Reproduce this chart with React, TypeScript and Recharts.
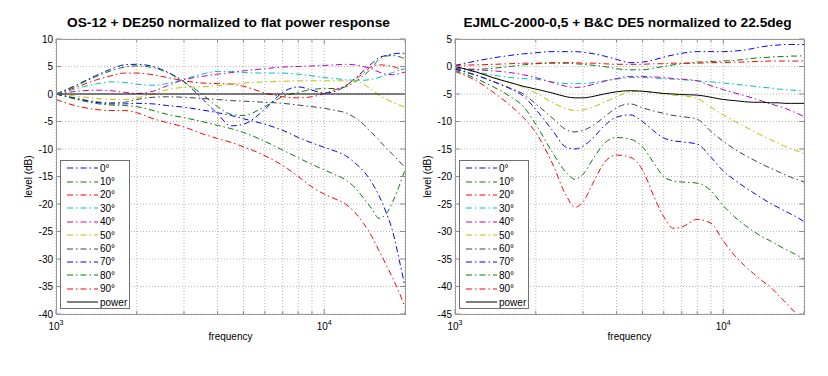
import React from 'react';
import { LineChart, Line, XAxis, YAxis, CartesianGrid, Legend } from 'recharts';

// ---------- data ----------
const seriesLabels = ['0°', '10°', '20°', '30°', '40°', '50°', '60°', '70°', '80°', '90°', 'power'];
const xTickValues = [1000, 2000, 3000, 4000, 5000, 6000, 7000, 8000, 9000, 10000, 20000];

const os12Title = 'OS-12 + DE250 normalized to flat power response';
const os12YTicks = [-40, -35, -30, -25, -20, -15, -10, -5, 0, 5, 10];
const os12Freq = [1000, 1200, 1400, 1600, 1800, 2000, 2300, 2600, 3000, 3500, 4000, 4500, 5000, 6000, 7000, 8000, 9000, 10000, 11000, 12000, 13000, 14000, 15000, 16000, 17000, 18000, 19000, 20000];
const os12Deg0 = [0, 1.7, 3.3, 4.5, 5.3, 5.4, 5.0, 4.0, 2.2, -0.8, -3.6, -5.8, -5.5, -2.8, 0.3, 1.3, 0.7, 0.2, 0.5, 1.5, 2.8, 4.2, 5.5, 6.6, 7.0, 7.3, 7.4, 7.4];
const os12Deg10 = [0, 1.6, 3.1, 4.2, 4.9, 5.1, 4.8, 3.9, 2.2, 0, -2.3, -3.7, -3.9, -2.3, -0.5, 0.3, 0.8, 1.0, 1.0, 1.3, 2.2, 3.3, 4.7, 6.3, 6.9, 7.0, 6.8, 6.4];
const os12Deg20 = [0, 1.3, 2.5, 3.3, 3.8, 3.8, 3.5, 3.0, 2.4, 2.0, 1.9, 1.8, 1.4, 0.2, -0.5, -0.7, -0.5, 0.1, 0.8, 1.5, 2.6, 3.8, 5.0, 5.3, 5.2, 5.0, 4.6, 4.2];
const os12Deg30 = [0, 1.0, 1.8, 2.2, 2.1, 1.8, 1.6, 1.9, 2.7, 3.6, 4.1, 4.1, 3.9, 3.8, 3.8, 3.6, 3.3, 3.0, 2.8, 2.6, 2.5, 2.5, 2.7, 3.0, 3.5, 3.9, 4.3, 4.6];
const os12Deg40 = [0, 0.5, 0.7, 0.6, 0.3, 0.1, 0.5, 1.5, 2.6, 3.2, 3.6, 3.9, 4.2, 4.6, 4.9, 5.0, 5.1, 5.2, 5.3, 5.4, 5.3, 5.0, 4.6, 4.0, 3.6, 3.5, 3.7, 4.0];
const os12Deg50 = [0, -0.4, -0.8, -1.0, -1.0, -0.7, 0, 0.8, 1.2, 1.3, 1.5, 1.8, 2.0, 2.2, 2.3, 2.4, 2.4, 2.4, 2.4, 2.4, 2.4, 1.8, 0.8, -0.2, -0.9, -1.5, -2.0, -2.4];
const os12Deg60 = [0, -0.8, -1.4, -1.6, -1.5, -1.0, -0.6, -0.5, -0.6, -0.8, -1.0, -1.2, -1.3, -1.5, -1.7, -2.0, -2.3, -2.6, -3.0, -3.4, -4.3, -5.5, -7.0, -8.4, -9.8, -11.0, -12.2, -13.4];
const os12Deg70 = [0, -0.9, -1.5, -1.8, -1.8, -1.7, -1.8, -2.1, -2.4, -2.9, -3.4, -3.9, -4.5, -5.5, -6.6, -7.9, -8.9, -9.7, -10.4, -11.2, -12.5, -14.0, -16.0, -18.5, -21.5, -25.0, -30.0, -35.0];
const os12Deg80 = [0, -1.0, -1.7, -2.0, -2.1, -2.3, -3.0, -3.7, -4.3, -5.0, -5.7, -6.3, -7.0, -8.6, -10.2, -11.6, -12.8, -13.8, -14.7, -15.6, -17.0, -18.9, -20.8, -22.6, -21.8, -19.6, -16.8, -13.8];
const os12Deg90 = [-1.0, -2.2, -2.8, -3.0, -3.0, -3.4, -4.5, -5.2, -6.0, -7.2, -8.1, -8.8, -9.6, -11.2, -13.0, -15.0, -16.9, -18.2, -19.1, -20.0, -21.5, -23.5, -25.8, -28.5, -31.0, -33.5, -36.0, -38.8];
const os12Power = [0, 0, 0, 0, 0, 0, 0, 0, 0, 0, 0, 0, 0, 0, 0, 0, 0, 0, 0, 0, 0, 0, 0, 0, 0, 0, 0, 0];

const ejmlcTitle = 'EJMLC-2000-0,5 + B&C DE5 normalized to 22.5deg';
const ejmlcYTicks = [-45, -40, -35, -30, -25, -20, -15, -10, -5, 0, 5];
const ejmlcFreq = [1000, 1200, 1400, 1600, 1800, 2000, 2300, 2600, 2800, 3000, 3300, 3600, 4000, 4500, 5000, 5500, 6000, 6500, 7000, 8000, 9000, 10000, 11000, 12000, 13000, 14000, 15000, 16000, 17000, 18000, 19000, 20000];
const ejmlcDeg0 = [0.2, 1.0, 1.6, 2.0, 2.3, 2.5, 2.7, 2.7, 2.7, 2.6, 2.3, 1.9, 1.3, 0.7, 0.8, 1.2, 1.7, 2.1, 2.4, 2.7, 2.7, 2.7, 2.8, 3.0, 3.3, 3.6, 3.8, 3.9, 4.0, 4.0, 4.0, 4.0];
const ejmlcDeg10 = [-0.3, -0.5, -0.3, 0, 0.3, 0.5, 0.6, 0.6, 0.5, 0.4, 0.2, 0, -0.4, -0.6, -0.6, -0.3, 0, 0.3, 0.5, 0.8, 0.9, 1.0, 1.1, 1.3, 1.5, 1.6, 1.7, 1.8, 1.8, 1.9, 1.9, 2.0];
const ejmlcDeg20 = [0.2, 0.3, 0.4, 0.5, 0.6, 0.6, 0.7, 0.7, 0.7, 0.6, 0.6, 0.5, 0.4, 0.4, 0.4, 0.5, 0.5, 0.6, 0.6, 0.6, 0.7, 0.7, 0.8, 0.8, 0.9, 0.9, 1.0, 1.0, 1.0, 1.0, 1.0, 1.0];
const ejmlcDeg30 = [-0.3, -1.0, -1.6, -2.0, -2.2, -2.3, -2.8, -3.1, -3.1, -3.1, -2.9, -2.6, -2.3, -2.0, -2.0, -2.1, -2.2, -2.3, -2.4, -2.6, -2.8, -3.0, -3.2, -3.4, -3.6, -3.8, -3.9, -4.1, -4.2, -4.3, -4.4, -4.5];
const ejmlcDeg40 = [-0.4, -0.6, -0.8, -1.1, -1.5, -2.0, -2.9, -3.6, -3.8, -3.7, -3.2, -2.7, -2.2, -1.8, -1.8, -1.9, -2.0, -2.2, -2.3, -2.6, -3.5, -4.2, -4.8, -5.3, -5.8, -6.3, -6.8, -7.2, -7.6, -8.1, -8.6, -9.1];
const ejmlcDeg50 = [0, -1.0, -2.0, -2.9, -3.8, -4.8, -6.5, -7.7, -8.0, -7.9, -7.3, -6.5, -5.5, -4.6, -4.5, -4.7, -5.0, -5.2, -5.3, -5.8, -7.4, -8.8, -9.9, -10.9, -11.8, -12.6, -13.3, -14.0, -14.5, -15.0, -15.4, -15.8];
const ejmlcDeg60 = [-0.4, -1.6, -2.8, -3.9, -5.0, -6.8, -9.3, -11.5, -11.9, -11.6, -10.6, -9.2, -7.5, -6.8, -7.5, -8.1, -8.5, -8.9, -9.1, -9.6, -11.8, -13.6, -15.0, -16.1, -17.0, -17.8, -18.5, -19.1, -19.7, -20.2, -20.6, -21.0];
const ejmlcDeg70 = [-0.5, -1.6, -2.8, -4.0, -5.4, -7.8, -11.5, -14.7, -15.0, -14.5, -12.8, -10.8, -9.2, -8.8, -10.0, -11.7, -13.0, -13.5, -13.7, -14.1, -16.5, -19.0, -20.6, -21.9, -23.0, -24.0, -24.9, -25.6, -26.3, -26.9, -27.5, -28.2];
const ejmlcDeg80 = [-0.7, -2.2, -3.8, -5.4, -7.3, -10.5, -15.5, -19.3, -20.5, -19.6, -16.5, -14.0, -12.9, -13.2, -14.6, -17.5, -20.0, -20.8, -21.0, -21.2, -22.6, -25.3, -27.3, -28.8, -30.0, -31.0, -31.7, -32.5, -33.2, -33.8, -34.4, -35.0];
const ejmlcDeg90 = [-0.9, -2.6, -4.8, -7.0, -9.3, -12.0, -17.5, -23.5, -25.6, -24.6, -20.8, -17.5, -16.1, -16.5, -18.8, -23.5, -27.3, -29.4, -29.2, -27.8, -28.5, -31.7, -34.3, -36.2, -37.7, -39.0, -40.1, -41.5, -42.8, -44.1, -45.3, -46.5];
const ejmlcPower = [0, -1.0, -2.1, -2.9, -3.6, -4.1, -4.8, -5.5, -5.7, -5.7, -5.4, -5.0, -4.6, -4.4, -4.5, -4.7, -4.9, -5.0, -5.1, -5.2, -5.6, -6.0, -6.2, -6.4, -6.5, -6.5, -6.6, -6.6, -6.7, -6.7, -6.7, -6.7];

// ---------- styles ----------
const lineColors = ['#0000ff', '#008000', '#ff0000', '#00bfbf', '#bf00bf', '#bfbf00', '#404040', '#0000ff', '#008000', '#ff0000', '#000000'];
const DASHDOT = '6 3 1.5 3';
const FONT = '"Liberation Sans", Arial, Helvetica, sans-serif';
const PW = 349;
const PH = 275;
const PT = 39;
const W = 414;
const H = 376;
const AXIS_GRAY = '#8c8c8c';

const XTick = (props: any) => {
  const { x, y, payload } = props;
  const v = payload.value;
  const major = v === 1000 || v === 10000;
  const len = major ? 5 : 3;
  return (
    <g>
      <line x1={x} x2={x} y1={y} y2={y - len} stroke={AXIS_GRAY} strokeWidth={1} />
      <line x1={x} x2={x} y1={y - PH} y2={y - PH + len} stroke={AXIS_GRAY} strokeWidth={1} />
      {major && (
        <text x={x} y={y + 16} textAnchor="middle" fontSize={10} fontFamily={FONT} fill="#000">
          10
          <tspan fontSize={7} dy={-5}>{v === 1000 ? '3' : '4'}</tspan>
        </text>
      )}
    </g>
  );
};

const YTick = (props: any) => {
  const { x, y, payload } = props;
  return (
    <g>
      <line x1={x} x2={x + 5} y1={y} y2={y} stroke={AXIS_GRAY} strokeWidth={1} />
      <line x1={x + PW - 5} x2={x + PW} y1={y} y2={y} stroke={AXIS_GRAY} strokeWidth={1} />
      <text x={x - 3} y={y} dy={3.6} textAnchor="end" fontSize={10} fontFamily={FONT} fill="#000">
        {String(payload.value)}
      </text>
    </g>
  );
};

const LegendBox = () => (
  <div
    style={{
      width: 70,
      height: 149,
      border: '1px solid #707070',
      background: '#fff',
      boxSizing: 'border-box',
      paddingTop: 0.6,
      fontFamily: FONT,
      fontSize: 10,
      color: '#000',
    }}
  >
    {seriesLabels.map((lab, k) => (
      <div key={lab} style={{ height: 13.4, display: 'flex', alignItems: 'center' }}>
        <svg width={31} height={4} style={{ marginLeft: 5.7, marginRight: 2.3, display: 'block' }}>
          <line
            x1={0}
            x2={31}
            y1={2}
            y2={2}
            stroke={lineColors[k]}
            strokeWidth={1}
            strokeDasharray={k === 10 ? undefined : DASHDOT}
          />
        </svg>
        <span style={{ lineHeight: '13.4px', whiteSpace: 'nowrap' }}>{lab}</span>
      </div>
    ))}
  </div>
);

type PanelProps = {
  title: string;
  freqs: number[];
  series: number[][];
  yTicks: number[];
  plotLeft: number;
};

const Panel = ({ title, freqs, series, yTicks, plotLeft }: PanelProps) => {
  const data = freqs.map((f, i) => {
    const row: Record<string, number> = { f };
    series.forEach((s, k) => {
      row['s' + k] = s[i];
    });
    return row;
  });
  const yAxisW = 40;
  const xAxisH = 30;
  const margin = {
    top: PT,
    left: plotLeft - yAxisW,
    right: W - plotLeft - PW,
    bottom: H - PT - PH - xAxisH,
  };
  const cx = plotLeft + PW / 2;
  return (
    <div style={{ position: 'relative', width: W, height: H }}>
      <LineChart width={W} height={H} data={data} margin={margin}>
        <CartesianGrid stroke="#b8b8b8" strokeDasharray="1 2" />
        <XAxis
          dataKey="f"
          type="number"
          scale="log"
          domain={[1000, 20000]}
          ticks={xTickValues}
          interval={0}
          allowDataOverflow
          height={xAxisH}
          tickSize={0}
          tickMargin={0}
          tickLine={false}
          axisLine={false}
          tick={<XTick />}
        />
        <YAxis
          type="number"
          domain={[yTicks[0], yTicks[yTicks.length - 1]]}
          ticks={yTicks}
          interval={0}
          allowDataOverflow
          width={yAxisW}
          tickSize={0}
          tickMargin={0}
          tickLine={false}
          axisLine={false}
          tick={<YTick />}
        />
        {series.map((_, k) => (
          <Line
            key={k}
            dataKey={'s' + k}
            name={seriesLabels[k]}
            type="monotone"
            stroke={lineColors[k]}
            strokeWidth={1}
            strokeDasharray={k === 10 ? undefined : DASHDOT}
            dot={false}
            activeDot={false}
            isAnimationActive={false}
          />
        ))}
        <Legend
          layout="vertical"
          align="center"
          verticalAlign="middle"
          wrapperStyle={{ left: plotLeft + 4, top: 160, width: 70, height: 149 }}
          content={() => <LegendBox />}
        />
      </LineChart>
      <div
        style={{
          position: 'absolute',
          left: plotLeft,
          top: PT,
          width: PW + 1,
          height: PH + 1,
          border: '1px solid #9a9a9a',
          boxSizing: 'border-box',
          pointerEvents: 'none',
        }}
      />
      <svg style={{ position: 'absolute', left: 0, top: 0, pointerEvents: 'none' }} width={W} height={H}>
        <text x={cx - 2} y={27} textAnchor="middle" fontWeight="bold" fontSize={13.7} fontFamily={FONT} fill="#000">
          {title}
        </text>
        <text x={cx} y={340} textAnchor="middle" fontSize={10} fontFamily={FONT} fill="#000">
          frequency
        </text>
        <text
          transform={`translate(${plotLeft - 24},${PT + PH / 2}) rotate(-90)`}
          textAnchor="middle"
          fontSize={10}
          fontFamily={FONT}
          fill="#000"
        >
          level (dB)
        </text>
      </svg>
    </div>
  );
};

export default function App() {
  const os12Series = [os12Deg0, os12Deg10, os12Deg20, os12Deg30, os12Deg40, os12Deg50, os12Deg60, os12Deg70, os12Deg80, os12Deg90, os12Power];
  const ejmlcSeries = [ejmlcDeg0, ejmlcDeg10, ejmlcDeg20, ejmlcDeg30, ejmlcDeg40, ejmlcDeg50, ejmlcDeg60, ejmlcDeg70, ejmlcDeg80, ejmlcDeg90, ejmlcPower];
  return (
    <div style={{ position: 'absolute', left: 0, top: 0, width: 828, height: 376, background: '#fff', display: 'flex' }}>
      <Panel title={os12Title} freqs={os12Freq} series={os12Series} yTicks={os12YTicks} plotLeft={56} />
      <Panel title={ejmlcTitle} freqs={ejmlcFreq} series={ejmlcSeries} yTicks={ejmlcYTicks} plotLeft={41} />
    </div>
  );
}
